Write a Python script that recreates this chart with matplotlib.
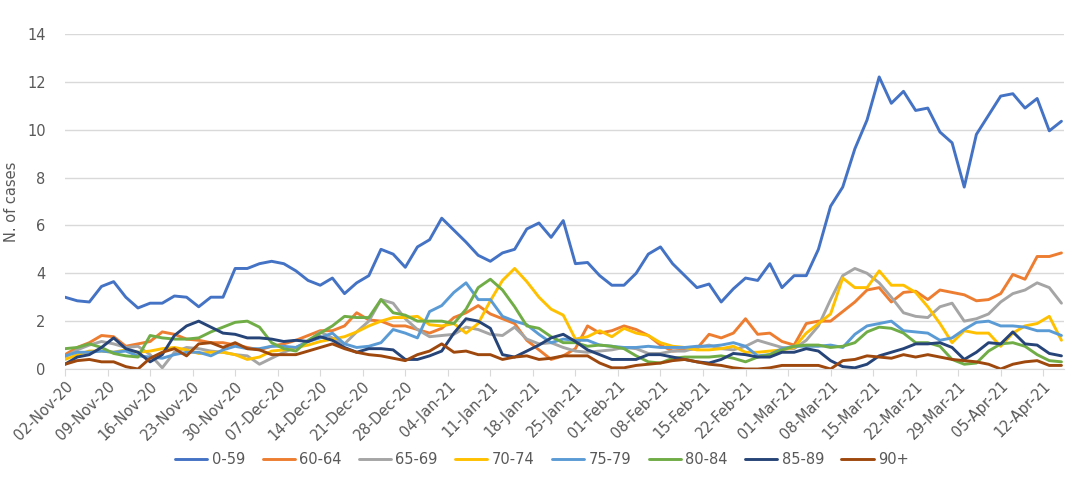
import matplotlib
matplotlib.use("Agg")
import matplotlib.pyplot as plt
import pandas as pd

# values read every 2 days from 02-Nov-20 to 15-Apr-21
dates = pd.date_range("2020-11-02", periods=83, freq="2D")

age_0_59 = [3.0, 2.85, 2.8, 3.45, 3.65, 3.0, 2.55, 2.75, 2.75, 3.05,
            3.0, 2.6, 3.0, 3.0, 4.2, 4.2, 4.4, 4.5, 4.4, 4.1,
            3.7, 3.5, 3.8, 3.15, 3.6, 3.9, 5.0, 4.8, 4.25, 5.1,
            5.4, 6.3, 5.8, 5.3, 4.75, 4.5, 4.85, 5.0, 5.85, 6.1,
            5.5, 6.2, 4.4, 4.45, 3.9, 3.5, 3.5, 4.0, 4.8, 5.1,
            4.4, 3.9, 3.4, 3.55, 2.8, 3.35, 3.8, 3.7, 4.4, 3.4,
            3.9, 3.9, 5.0, 6.8, 7.6, 9.2, 10.4, 12.2, 11.1, 11.6,
            10.8, 10.9, 9.9, 9.45, 7.6, 9.8, 10.6, 11.4, 11.5, 10.9,
            11.3, 9.95, 10.35]

age_60_64 = [0.6, 0.9, 1.1, 1.4, 1.35, 0.95, 1.05, 1.15, 1.55, 1.45,
             1.25, 1.2, 1.1, 1.1, 1.0, 0.9, 0.8, 0.95, 1.05, 1.2,
             1.4, 1.6, 1.6, 1.8, 2.35, 2.05, 2.0, 1.8, 1.8, 1.65,
             1.5, 1.7, 2.15, 2.35, 2.65, 2.3, 2.1, 1.9, 1.2, 0.8,
             0.4, 0.55, 0.85, 1.8, 1.5, 1.6, 1.8, 1.65, 1.4, 1.0,
             0.75, 0.8, 0.85, 1.45, 1.3, 1.5, 2.1, 1.45, 1.5, 1.15,
             1.0, 1.9, 2.0, 2.0, 2.4, 2.8, 3.3, 3.4, 2.8, 3.2,
             3.25, 2.9, 3.3, 3.2, 3.1, 2.85, 2.9, 3.15, 3.95, 3.75,
             4.7, 4.7, 4.85]

age_65_69 = [0.5, 0.8, 1.0, 1.15, 1.05, 0.9, 0.95, 0.6, 0.05, 0.7,
             0.9, 0.85, 0.75, 0.7, 0.6, 0.55, 0.2, 0.45, 0.7, 0.9,
             1.15, 1.55, 1.3, 1.05, 1.55, 2.0, 2.9, 2.75, 2.1, 1.65,
             1.35, 1.4, 1.45, 1.75, 1.65, 1.45, 1.4, 1.75, 1.25, 1.05,
             1.1, 0.9, 0.75, 0.7, 0.75, 0.8, 0.9, 0.85, 0.65, 0.65,
             0.75, 0.75, 0.9, 1.0, 0.85, 0.8, 0.95, 1.2, 1.05, 0.9,
             0.85, 1.2, 1.8, 2.9, 3.9, 4.2, 4.0, 3.6, 3.0, 2.35,
             2.2, 2.15, 2.6, 2.75, 2.0, 2.1, 2.3, 2.8, 3.15, 3.3,
             3.6, 3.4, 2.75]

age_70_74 = [0.4, 0.6, 0.75, 0.75, 0.7, 0.8, 0.7, 0.75, 0.85, 0.9,
             0.8, 0.65, 0.7, 0.7, 0.6, 0.4, 0.5, 0.75, 0.8, 0.9,
             1.0, 1.15, 1.25, 1.35, 1.55, 1.8, 2.0, 2.15, 2.15, 2.2,
             1.85, 1.8, 1.9, 1.5, 1.9, 2.85, 3.7, 4.2, 3.65, 3.0,
             2.5, 2.25, 1.25, 1.35, 1.6, 1.35, 1.7, 1.5, 1.4, 1.1,
             0.95, 0.9, 0.8, 0.8, 0.85, 0.95, 0.7, 0.7, 0.75, 0.8,
             0.9, 1.5, 1.9, 2.3, 3.8, 3.4, 3.4, 4.1, 3.5, 3.5,
             3.2, 2.6, 1.9, 1.1, 1.6, 1.5, 1.5, 0.95, 1.5, 1.8,
             1.9, 2.2, 1.2]

age_75_79 = [0.55, 0.7, 0.7, 0.75, 0.7, 0.75, 0.55, 0.5, 0.45, 0.6,
             0.7, 0.7, 0.55, 0.8, 0.95, 0.85, 0.85, 0.95, 0.95, 0.9,
             1.15, 1.3, 1.5, 1.05, 0.9, 0.95, 1.1, 1.65, 1.5, 1.3,
             2.4, 2.65, 3.2, 3.6, 2.9, 2.9, 2.2, 2.0, 1.85, 1.45,
             1.1, 1.25, 1.2, 1.2, 1.0, 0.95, 0.9, 0.9, 0.95, 0.9,
             0.9, 0.9, 0.95, 0.95, 1.0, 1.1, 0.95, 0.55, 0.6, 0.85,
             0.95, 0.95, 0.95, 1.0, 0.9, 1.45, 1.8, 1.9, 2.0, 1.6,
             1.55, 1.5, 1.2, 1.3, 1.65, 1.95, 2.0, 1.8, 1.8, 1.75,
             1.6, 1.6, 1.4]

age_80_84 = [0.85, 0.9, 1.05, 0.9, 0.65, 0.55, 0.5, 1.4, 1.3, 1.25,
             1.25, 1.3, 1.55, 1.75, 1.95, 2.0, 1.75, 1.1, 0.85, 0.75,
             1.2, 1.5, 1.8, 2.2, 2.15, 2.15, 2.9, 2.35, 2.25, 2.0,
             2.0, 2.0, 1.9, 2.5, 3.4, 3.75, 3.3, 2.6, 1.8, 1.7,
             1.35, 1.1, 1.1, 0.95, 1.0, 0.95, 0.85, 0.55, 0.3, 0.25,
             0.45, 0.5, 0.5, 0.5, 0.55, 0.45, 0.3, 0.5, 0.6, 0.8,
             0.95, 1.0, 1.0, 0.9, 0.95, 1.1, 1.55, 1.75, 1.7, 1.5,
             1.1, 1.1, 0.95, 0.4, 0.2, 0.25, 0.75, 1.05, 1.1, 0.95,
             0.6, 0.35, 0.3]

age_85_89 = [0.2, 0.5, 0.6, 0.9, 1.3, 0.85, 0.7, 0.3, 0.6, 1.4,
             1.8, 2.0, 1.75, 1.5, 1.45, 1.3, 1.3, 1.25, 1.15, 1.2,
             1.15, 1.35, 1.2, 0.9, 0.7, 0.85, 0.85, 0.8, 0.4, 0.4,
             0.55, 0.75, 1.5, 2.1, 2.0, 1.7, 0.6, 0.5, 0.75, 1.0,
             1.3, 1.45, 1.15, 0.8, 0.6, 0.4, 0.4, 0.4, 0.6, 0.6,
             0.5, 0.4, 0.3, 0.25, 0.4, 0.65, 0.6, 0.5, 0.5, 0.7,
             0.7, 0.85, 0.75, 0.35, 0.1, 0.05, 0.2, 0.55, 0.7, 0.85,
             1.05, 1.05, 1.1, 0.9, 0.4, 0.7, 1.1, 1.05, 1.55, 1.05,
             1.0, 0.65, 0.55]

age_90_plus = [0.2, 0.35, 0.4, 0.3, 0.3, 0.1, 0.0, 0.45, 0.7, 0.85,
               0.55, 1.05, 1.1, 0.9, 1.1, 0.85, 0.8, 0.6, 0.6, 0.6,
               0.75, 0.9, 1.05, 0.85, 0.7, 0.6, 0.55, 0.45, 0.35, 0.6,
               0.75, 1.05, 0.7, 0.75, 0.6, 0.6, 0.4, 0.5, 0.55, 0.4,
               0.45, 0.55, 0.55, 0.55, 0.25, 0.05, 0.05, 0.15, 0.2, 0.25,
               0.35, 0.4, 0.3, 0.2, 0.15, 0.05, 0.0, 0.0, 0.05, 0.15,
               0.15, 0.15, 0.15, 0.0, 0.35, 0.4, 0.55, 0.5, 0.45, 0.6,
               0.5, 0.6, 0.5, 0.4, 0.35, 0.3, 0.2, 0.0, 0.2, 0.3,
               0.35, 0.15, 0.15]

labels = ["0-59", "60-64", "65-69", "70-74", "75-79", "80-84", "85-89", "90+"]
colors = ["#4472C4", "#ED7D31", "#A5A5A5", "#FFC000",
          "#5B9BD5", "#70AD47", "#264478", "#9E480E"]
series = [age_0_59, age_60_64, age_65_69, age_70_74,
          age_75_79, age_80_84, age_85_89, age_90_plus]

tick_dates = pd.date_range("2020-11-02", "2021-04-12", freq="7D")

fig = plt.figure(figsize=(10.84, 4.98), dpi=100)
ax = fig.add_axes([0.060, 0.259, 0.922, 0.673])

for vals, lab, col in zip(series, labels, colors):
    ax.plot(dates, vals, color=col, lw=2.1, label=lab,
            solid_joinstyle="round", solid_capstyle="round")

ax.set_ylim(0, 14)
ax.set_yticks(range(0, 15, 2))
ax.set_xlim(dates[0], pd.Timestamp("2021-04-15 12:00"))
ax.set_xticks(tick_dates)
ax.set_xticklabels([d.strftime("%d-%b-%y") for d in tick_dates],
                   rotation=45, ha="right", rotation_mode="anchor")

ax.grid(axis="y", color="#D9D9D9", lw=1)
ax.set_axisbelow(True)
for s in ["top", "right", "left"]:
    ax.spines[s].set_visible(False)
ax.spines["bottom"].set_color("#D9D9D9")
ax.tick_params(axis="y", length=0, pad=14, labelsize=10.5, labelcolor="#595959")
ax.tick_params(axis="x", length=5, color="#D9D9D9", pad=2,
               labelsize=10.5, labelcolor="#595959")

fig.text(0.011, 0.594, "N. of cases", rotation=90, ha="center", va="center",
         fontsize=10.5, color="#595959")

fig.legend(loc="center", bbox_to_anchor=(0.5, 0.078), ncol=8, frameon=False,
           fontsize=10.5, handlelength=2.2, handletextpad=0.3, columnspacing=1.2,
           labelcolor="#595959")

fig.savefig("out.png", dpi=100)
